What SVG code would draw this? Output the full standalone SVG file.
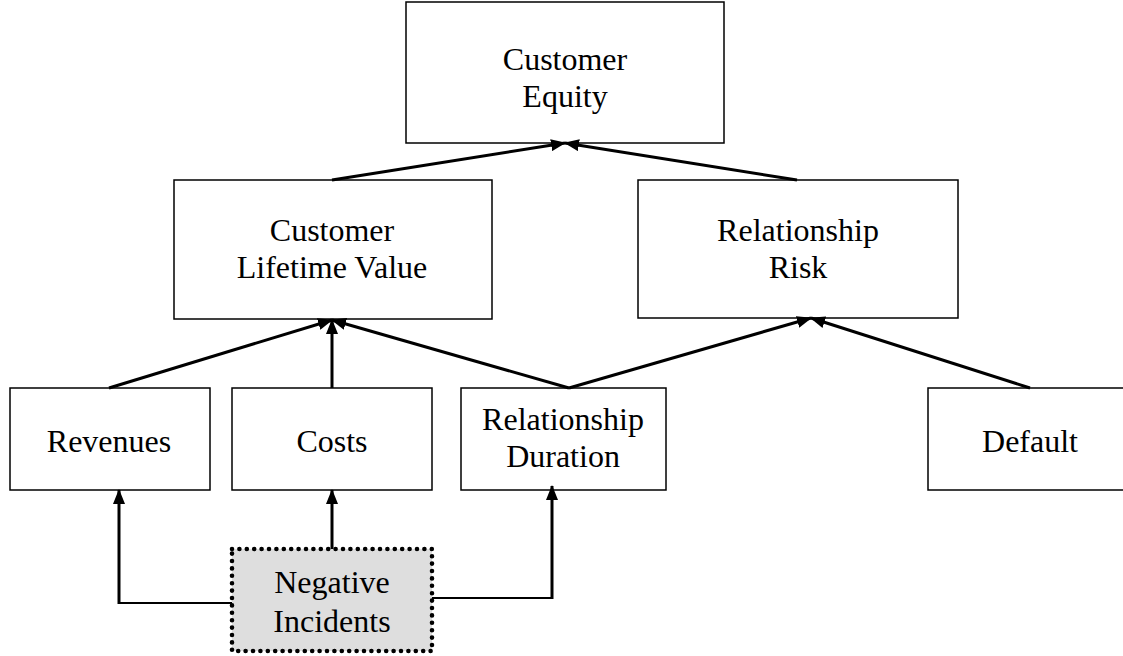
<svg xmlns="http://www.w3.org/2000/svg" width="1123" height="656" viewBox="0 0 1123 656">
  <style>
    .box { fill: #ffffff; stroke: #000000; stroke-width: 1.5; }
    .dotted { fill: #dedede; stroke: #000000; stroke-width: 4.6; stroke-dasharray: 0 7.4; stroke-linecap: round; }
    .lbl { font-family: "Liberation Serif", "Times New Roman", serif; font-size: 32px; fill: #000000; text-anchor: middle; }
    .thick { stroke: #000000; stroke-width: 3; fill: none; }
    .thin { stroke: #000000; stroke-width: 1.8; fill: none; }
    .arr { marker-end: url(#head); }
  </style>
  <defs>
    <marker id="head" markerUnits="userSpaceOnUse" markerWidth="15" markerHeight="12" refX="14" refY="6" orient="auto">
      <path d="M0,0 L15,6 L0,12 Z" fill="#000000"/>
    </marker>
  </defs>
  <rect width="1123" height="656" fill="#ffffff"/>

  <g id="customer-equity">
    <rect class="box" x="406" y="2" width="318" height="141"/>
    <text class="lbl" x="565" y="70">Customer</text>
    <text class="lbl" x="565" y="107">Equity</text>
  </g>

  <g id="customer-lifetime-value">
    <rect class="box" x="174" y="180" width="318" height="139"/>
    <text class="lbl" x="332" y="241">Customer</text>
    <text class="lbl" x="332" y="278">Lifetime Value</text>
  </g>

  <g id="relationship-risk">
    <rect class="box" x="638" y="180" width="320" height="138"/>
    <text class="lbl" x="798" y="241">Relationship</text>
    <text class="lbl" x="798" y="278">Risk</text>
  </g>

  <g id="revenues">
    <rect class="box" x="10" y="388" width="200" height="102"/>
    <text class="lbl" x="109" y="452">Revenues</text>
  </g>

  <g id="costs">
    <rect class="box" x="232" y="388" width="200" height="102"/>
    <text class="lbl" x="332" y="452">Costs</text>
  </g>

  <g id="relationship-duration">
    <rect class="box" x="461" y="388" width="205" height="102"/>
    <text class="lbl" x="563" y="430">Relationship</text>
    <text class="lbl" x="563" y="467">Duration</text>
  </g>

  <g id="default">
    <rect class="box" x="928" y="388" width="200" height="102"/>
    <text class="lbl" x="1030" y="452">Default</text>
  </g>

  <g id="negative-incidents">
    <rect class="dotted" x="232" y="549" width="200" height="102"/>
    <text class="lbl" x="332" y="593">Negative</text>
    <text class="lbl" x="332" y="632">Incidents</text>
  </g>

  <g id="connectors">
    <line class="thick arr" x1="332" y1="180" x2="565" y2="143"/>
    <line class="thick arr" x1="797" y1="180" x2="565" y2="143"/>
    <line class="thick arr" x1="109" y1="388" x2="332" y2="320"/>
    <line class="thick arr" x1="332" y1="388" x2="332" y2="320"/>
    <line class="thick arr" x1="569" y1="388" x2="332" y2="320"/>
    <line class="thick arr" x1="569" y1="388" x2="811" y2="318"/>
    <line class="thick arr" x1="1030" y1="388" x2="811" y2="318"/>
    <line class="thick arr" x1="332" y1="549" x2="332" y2="490"/>
    <line class="thin" x1="232" y1="603" x2="119" y2="603"/>
    <line class="thick arr" x1="119" y1="604" x2="119" y2="490"/>
    <line class="thin" x1="432" y1="598" x2="552" y2="598"/>
    <line class="thick arr" x1="552" y1="599" x2="552" y2="486"/>
  </g>
</svg>
